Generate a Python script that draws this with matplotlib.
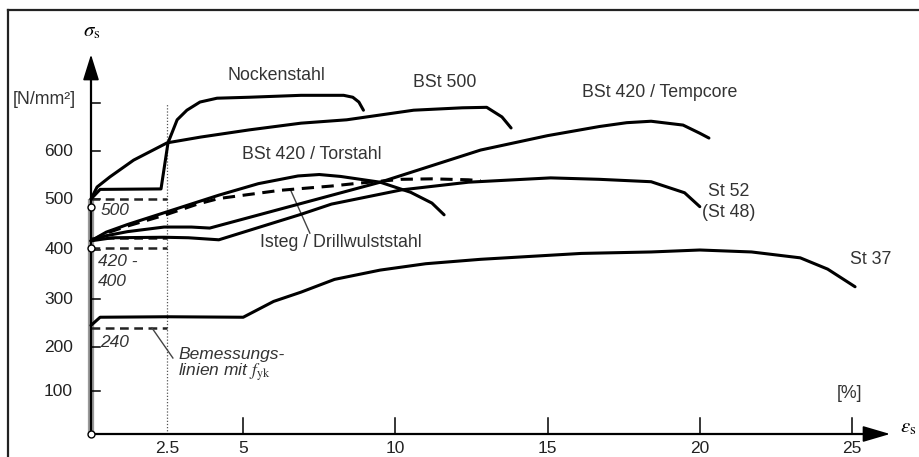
import numpy as np
import matplotlib.pyplot as plt
from matplotlib.lines import Line2D

plt.rcParams['font.family'] = ['Liberation Sans', 'DejaVu Sans']
plt.rcParams['mathtext.fontset'] = 'stix'

# Werte (Dehnung in %, Spannung in N/mm²)
nocken_eps = [0, 0.3, 2.3, 2.53, 2.83, 3.15, 3.58, 4.14, 5.2, 6.9, 8.3, 8.6, 8.8, 8.95]
nocken_sig = [500, 520, 521, 617, 665, 685, 702, 710, 712, 716, 716, 712, 702, 685]

bst500_eps = [0, 0.2, 0.62, 1.4, 2.5, 3.6, 5.2, 6.9, 8.4, 10.6, 12.2, 13.0, 13.5, 13.8]
bst500_sig = [500, 525, 546, 581, 617, 629, 644, 658, 665, 685, 690, 691, 671, 648]

tempcore_eps = [0, 0.5, 1.2, 2.4, 3.3, 3.9, 9.5, 12.8, 15.0, 16.7, 17.6, 18.4, 19.45, 20.0, 20.3]
tempcore_sig = [418, 428, 436, 445, 445, 443, 535, 602, 632, 651, 659, 662, 654, 637, 627]

torstahl_eps = [0, 0.5, 1.2, 2.4, 4.2, 5.5, 6.8, 7.5, 8.2, 9.5, 10.5, 11.2, 11.6]
torstahl_sig = [418, 435, 450, 473, 508, 532, 548, 551, 547, 535, 514, 492, 469]

isteg_eps = [0, 0.5, 1.2, 2.4, 3.5, 4.2, 6.2, 7.9, 8.8, 10.2, 11.2, 12.4, 12.8]
isteg_sig = [418, 433, 447, 468, 490, 501, 518, 527, 533, 541, 542, 540, 538]

st52_eps = [0, 0.7, 2.4, 3.2, 4.2, 6.9, 7.9, 10.2, 12.4, 15.1, 16.7, 18.4, 19.5, 20.0]
st52_sig = [418, 424, 425, 424, 420, 470, 490, 519, 535, 544, 541, 536, 513, 485]

st37_eps = [0, 0.3, 2.5, 5.0, 6.0, 6.9, 8.0, 9.5, 11.0, 12.8, 16.1, 18.4, 20.0, 21.7, 23.3, 24.2, 25.1]
st37_sig = [245, 262, 263, 262, 295, 314, 340, 359, 372, 381, 393, 396, 400, 396, 384, 361, 325]

# Bemessungslinien mit f_yk (bis 2,5 %)
fyk_values = [500, 424, 404, 240]
fyk_eps_end = 2.5

x_ticks = [5, 10, 15, 20, 25]
x_ticklabels = ['5', '10', '15', '20', '25']
y_ticks = [100, 200, 300, 400, 500, 600, 700]
y_ticklabels = ['100', '200', '300', '400', '500', '600', '']

# die Spannungsteilung im Original ist nicht ganz gleichmäßig -> Stützstellen in Pixeln
scale_vals = np.array([0, 100, 200, 300, 400, 500, 600, 700], dtype=float)
scale_px = np.array([0, 43, 87, 135, 184, 235, 283, 331], dtype=float)


def sig_fwd(s):
    s = np.asarray(s, dtype=float)
    h = np.interp(s, scale_vals, scale_px)
    h = np.where(s < 0, s * 0.43, h)
    h = np.where(s > 700, 331 + (s - 700) * 0.48, h)
    return h


def sig_inv(h):
    h = np.asarray(h, dtype=float)
    s = np.interp(h, scale_px, scale_vals)
    s = np.where(h < 0, h / 0.43, s)
    s = np.where(h > 331, 700 + (h - 331) / 0.48, s)
    return s


fig = plt.figure(figsize=(9.19, 4.57), dpi=100)
ax = fig.add_axes([0, 0, 1, 1])
ax.set_yscale('function', functions=(sig_fwd, sig_inv))
ax.set_xlim(-91 / 30.44, (919 - 91) / 30.44)
ax.set_ylim(sig_inv(-23), sig_inv(434))
ax.axis('off')

# Rahmen oben und links
fig.add_artist(Line2D([8 / 919, 8 / 919], [0, 1 - 10 / 457], color='#222', lw=1.6))
fig.add_artist(Line2D([8 / 919, 1], [1 - 10 / 457, 1 - 10 / 457], color='#222', lw=1.6))

# Achsen
ax.plot([0, 0], [0, 500], color='#9a9a9a', lw=4.5, solid_capstyle='butt', zorder=2)
ax.plot([0, 0], [0, 760], color='black', lw=1.6, zorder=3)
ax.plot([0, 25.6], [0, 0], color='black', lw=1.6, zorder=3)
ax.annotate('', xy=(0, 801), xytext=(0, 750),
            arrowprops=dict(arrowstyle='-|>,head_length=1.6,head_width=0.5',
                            color='black', lw=1.2, shrinkA=0, shrinkB=0))
ax.annotate('', xy=(26.25, 0), xytext=(25.3, 0),
            arrowprops=dict(arrowstyle='-|>,head_length=1.7,head_width=0.5',
                            color='black', lw=1.2, shrinkA=0, shrinkB=0))

for v, lab in zip(x_ticks, x_ticklabels):
    ax.plot([v, v], [0, 37], color='black', lw=1.1)
    ax.text(v, -33, lab, ha='center', va='center', fontsize=12.5, color='#222')
ax.text(2.5, -33, '2.5', ha='center', va='center', fontsize=12.5, color='#222')
for v, lab in zip(y_ticks, y_ticklabels):
    ax.plot([0, 0.3], [v, v], color='black', lw=1.1)
    if lab:
        ax.text(-0.59, v, lab, ha='right', va='center', fontsize=12.5, color='#222')

# gepunktete Linie bei 2,5 %
ax.plot([2.5, 2.5], [0, 700], color='#555', lw=0.9, ls=(0, (1, 1.5)), zorder=1)

# Bemessungslinien
for v in fyk_values:
    ax.plot([0, fyk_eps_end], [v, v], color='#222', lw=1.8, ls=(0, (3.5, 2.2)), zorder=2)

# Kurven
curve_kw = dict(color='black', lw=2.2, solid_joinstyle='round', solid_capstyle='round', zorder=4)
ax.plot(nocken_eps, nocken_sig, **curve_kw)
ax.plot(bst500_eps, bst500_sig, **curve_kw)
ax.plot(tempcore_eps, tempcore_sig, **curve_kw)
ax.plot(torstahl_eps, torstahl_sig, **curve_kw)
ax.plot(st52_eps, st52_sig, **curve_kw)
ax.plot(st37_eps, st37_sig, **curve_kw)
ax.plot(isteg_eps, isteg_sig, color='black', lw=2.2, ls=(0, (4, 2.5)), zorder=4)

# Kreise an der Spannungsachse
ax.plot([0, 0, 0], [0, 484, 404], 'o', ms=5, mfc='white', mec='black', mew=1.0, zorder=5)

# Beschriftungen
lab_kw = dict(fontsize=12.8, color='#333', ha='center', va='center')
ax.text(6.08, 757, 'Nockenstahl', **lab_kw)
ax.text(11.63, 742, 'BSt 500', **lab_kw)
ax.text(18.69, 721, 'BSt 420 / Tempcore', **lab_kw)
ax.text(7.26, 592, 'BSt 420 / Torstahl', **lab_kw)
ax.text(8.21, 414, 'Isteg / Drillwulststahl', **lab_kw)
ax.text(20.96, 515, 'St 52', **lab_kw)
ax.text(20.96, 473, '(St 48)', **lab_kw)
ax.text(25.6, 380, 'St 37', **lab_kw)
ax.text(24.93, 95, '[%]', **lab_kw)
ax.text(-1.54, 708, '[N/mm²]', **lab_kw)
ax.text(0.03, 850, r'$\sigma_{\mathrm{s}}$', fontsize=15, ha='center', va='center')
ax.text(26.85, 16, r'$\varepsilon_{\mathrm{s}}$', fontsize=15, ha='center', va='center')

it_kw = dict(fontsize=12.5, color='#333', style='italic', ha='left', va='center')
ax.text(0.3, 478, '500', **it_kw)
ax.text(0.23, 376, '420 -', **it_kw)
ax.text(0.23, 335, '400', **it_kw)
ax.text(0.3, 210, '240', **it_kw)
ax.text(2.86, 182, 'Bemessungs-', **it_kw)
ax.text(2.86, 142, r'linien mit $f_{\mathrm{yk}}$', **it_kw)

# Hinweislinien
ax.plot([2.0, 2.69], [240, 175], color='#444', lw=1.0)
ax.plot([6.54, 7.19], [521, 433], color='#444', lw=1.0)

fig.savefig('out.png', dpi=100)
